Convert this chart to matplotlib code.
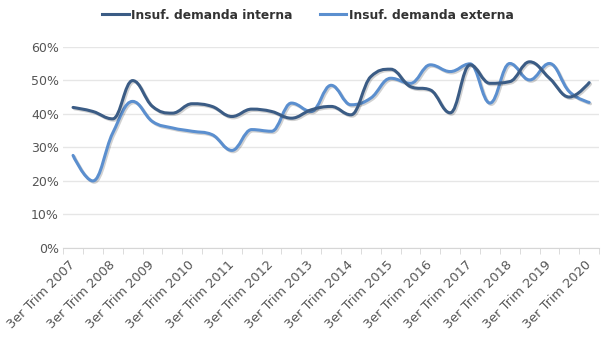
import matplotlib
matplotlib.use('Agg')
import matplotlib.pyplot as plt
import matplotlib.patheffects as pe
from matplotlib.path import Path
from matplotlib.patches import PathPatch
from matplotlib.lines import Line2D
from matplotlib.ticker import FuncFormatter

years = list(range(2007, 2021))
# semiannual observations: 3er Trim 2007, 1er Trim 2008, 3er Trim 2008, ...
interna = [41.9, 40.7, 38.5, 49.9, 42.2, 40.2, 43.0, 42.2, 39.2, 41.4, 40.7, 38.7, 41.2, 42.2,
           39.7, 51.1, 53.3, 48.1, 47.1, 40.3, 54.6, 49.1, 49.6, 55.5, 50.6, 45.0, 49.3]
externa = [27.6, 20.0, 34.3, 43.7, 37.7, 35.8, 34.8, 33.8, 29.1, 35.3, 34.8, 43.2, 40.7, 48.5,
           42.7, 44.7, 50.6, 49.1, 54.6, 52.6, 54.9, 43.2, 55.0, 50.1, 55.0, 46.6, 43.4]
labels = [f'3er Trim {y}' for y in years]

c_int = '#3b5c85'
c_ext = '#5b8fcf'


def spline_path(ys, smoothing=1.5):
    # bezier control points, same idea as the highcharts spline series
    xs = list(range(len(ys)))
    d = smoothing + 1
    lc, rc = [], []
    for i in range(len(ys)):
        x, y = xs[i], ys[i]
        if i == 0 or i == len(ys) - 1:
            lc.append((x, y)); rc.append((x, y)); continue
        lx, ly = xs[i-1], ys[i-1]
        nx, ny = xs[i+1], ys[i+1]
        lcx, lcy = (smoothing*x + lx)/d, (smoothing*y + ly)/d
        rcx, rcy = (smoothing*x + nx)/d, (smoothing*y + ny)/d
        corr = (rcy - lcy)*(rcx - x)/(rcx - lcx) + y - rcy
        lcy += corr; rcy += corr
        if lcy > ly and lcy > y:
            lcy = max(ly, y); rcy = 2*y - lcy
        elif lcy < ly and lcy < y:
            lcy = min(ly, y); rcy = 2*y - lcy
        if rcy > ny and rcy > y:
            rcy = max(ny, y); lcy = 2*y - rcy
        elif rcy < ny and rcy < y:
            rcy = min(ny, y); lcy = 2*y - rcy
        lc.append((lcx, lcy)); rc.append((rcx, rcy))
    verts = [(xs[0], ys[0])]
    codes = [Path.MOVETO]
    for i in range(1, len(ys)):
        verts += [rc[i-1], lc[i], (xs[i], ys[i])]
        codes += [Path.CURVE4]*3
    return Path(verts, codes)


fig = plt.figure(figsize=(6.07, 3.41), dpi=100)
ax = fig.add_axes([0.104, 0.2727, 0.883, 0.5903])

ax.set_ylim(0, 60)
ax.set_xlim(-0.5, len(interna) - 0.5)
ax.set_yticks(range(0, 61, 10))
ax.yaxis.set_major_formatter(FuncFormatter(lambda v, p: f'{v:.0f}%'))
ax.grid(axis='y', color='#e6e6e6', lw=1)
ax.set_axisbelow(True)
for s in ['top', 'right', 'left']:
    ax.spines[s].set_visible(False)
ax.spines['bottom'].set_color('#d6d6d6')

ax.set_xticks(range(0, len(interna), 2))
ax.set_xticklabels(labels, rotation=45, ha='right', va='center', rotation_mode='anchor',
                   fontsize=9.3, color='#555555')
ax.set_xticks([i - 0.5 for i in range(len(interna) + 1)], minor=True)
ax.tick_params(axis='x', which='major', length=0, pad=11)
ax.tick_params(axis='x', which='minor', length=4, color='#d6d6d6')
ax.tick_params(axis='y', length=0, pad=3, labelsize=9, labelcolor='#555555')

shadow = [pe.SimpleLineShadow(offset=(1, -1), alpha=0.18, shadow_color='#000000'), pe.Normal()]
for vals, col in [(externa, c_ext), (interna, c_int)]:
    patch = PathPatch(spline_path(vals), fill=False, edgecolor=col, lw=2.2,
                      capstyle='round', joinstyle='round', path_effects=shadow)
    ax.add_patch(patch)

handles = [Line2D([], [], color=c_int, lw=2.2), Line2D([], [], color=c_ext, lw=2.2)]
fig.legend(handles, ['Insuf. demanda interna', 'Insuf. demanda externa'],
           loc='center', bbox_to_anchor=(0.507, 0.956), ncol=2, frameon=False,
           prop={'size': 8.8, 'weight': 'bold'}, labelcolor='#333333',
           handlelength=2.2, handletextpad=0.2, columnspacing=2.2)

fig.savefig('out.png', dpi=100)
